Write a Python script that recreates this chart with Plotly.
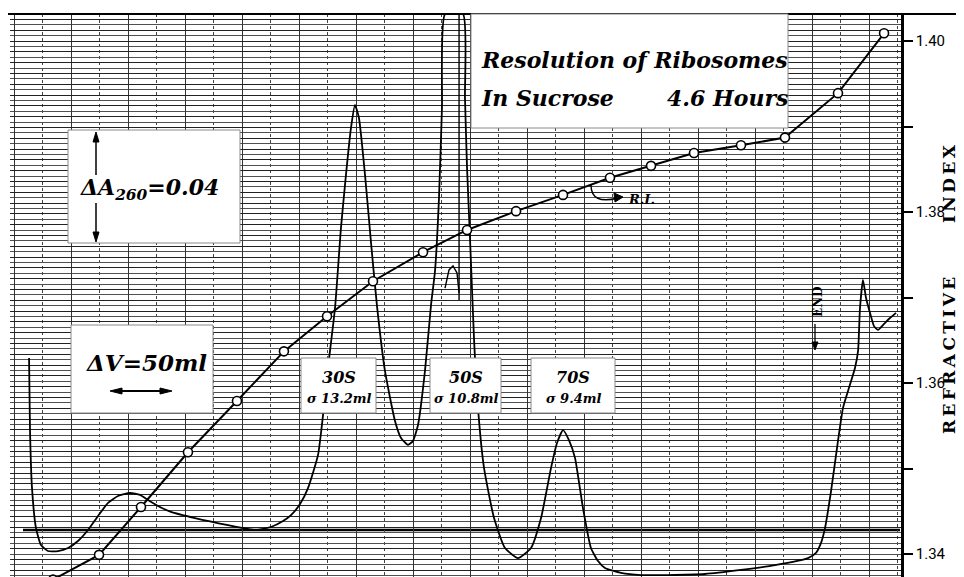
import plotly.graph_objects as go

# ---------------- data ----------------
# Absorbance (A260) trace: elution volume (ml) vs absorbance
ABS_ML = [13.2, 14.0, 15.8, 19.3, 23.7, 29.8, 38.6, 47.4, 56.1, 64.9, 73.7, 82.5, 91.2, 101.8,
          110.5, 117.5, 126.3, 137.7, 158.8, 187.7, 211.4, 225.4, 236.0, 243.0, 250.9, 257.9,
          266.7, 271.1, 275.4, 281.6, 286.8, 291.2, 295.6, 299.1, 302.6, 307.9, 313.2, 318.4,
          325.4, 334.2, 339.5, 345.6, 350.0, 354.4, 360.5, 365.8, 369.3, 372.8, 375.4, 378.1,
          393.9, 395.6, 397.4, 400.0, 403.5, 407.0, 412.3, 421.1, 430.7, 442.1, 453.5, 462.3,
          471.1, 476.3, 481.6, 486.8, 492.1, 499.1, 506.1, 512.3, 518.4, 532.5, 550.0, 573.7,
          606.1, 637.7, 667.5, 696.5, 703.5, 707.9, 711.4, 716.7, 722.8, 727.2, 731.6, 737.7,
          740.4, 742.1, 744.7, 747.4, 750.9, 754.4, 757.9, 763.2, 768.4, 773.7]
ABS_A260 = [0.0826, 0.0567, 0.0344, 0.0196, 0.0133, 0.0111, 0.0111, 0.0122, 0.0148, 0.0189,
            0.0241, 0.0289, 0.0315, 0.0326, 0.0319, 0.0300, 0.0278, 0.0256, 0.0233, 0.0207,
            0.0189, 0.0200, 0.0222, 0.0244, 0.0285, 0.0344, 0.0467, 0.0615, 0.0789, 0.1011,
            0.1307, 0.1504, 0.1678, 0.1763, 0.1715, 0.1504, 0.1252, 0.1019, 0.0778, 0.0593,
            0.0530, 0.0504, 0.0519, 0.0578, 0.0778, 0.1022, 0.1148, 0.1419, 0.1752, 0.2100,
            0.2100, 0.1789, 0.1530, 0.1270, 0.0900, 0.0641, 0.0419, 0.0233, 0.0122, 0.0085,
            0.0122, 0.0233, 0.0419, 0.0511, 0.0559, 0.0522, 0.0456, 0.0270, 0.0122, 0.0074,
            0.0048, 0.0030, 0.0022, 0.0022, 0.0026, 0.0041, 0.0059, 0.0085, 0.0104, 0.0141,
            0.0196, 0.0333, 0.0519, 0.0641, 0.0704, 0.0789, 0.0852, 0.1011, 0.1115, 0.1048,
            0.0993, 0.0944, 0.0930, 0.0952, 0.0974, 0.0993]

# extra pen strokes at the off-scale 50S peak
PEN_ML = [390.4, 390.4, None, 378.1, 381.6, 385.1, 388.6, 390.4]
PEN_A260 = [0.2100, 0.1041, None, 0.1085, 0.1152, 0.1167, 0.1141, 0.1067]

# Refractive index of collected fractions
RI_ML = [34.2, 74.6, 111.4, 152.6, 195.6, 236.8, 274.6, 314.9, 358.8, 397.4, 440.4,
         481.6, 522.8, 558.8, 596.5, 637.7, 676.3, 722.8, 763.2]
RI_VALUES = [1.3370, 1.3399, 1.3455, 1.3519, 1.3579, 1.3637, 1.3678, 1.3719, 1.3753,
             1.3779, 1.3801, 1.3820, 1.3840, 1.3854, 1.3869, 1.3878, 1.3887, 1.3939, 1.4009]

RI_TICK_START = 1.34      # labelled ticks every 0.02 from here
RI_TICK_STEP = 0.02
RI_MINOR_STEP = 0.01      # unlabelled ticks in between

BASELINE_A260 = 0.0189

PEAK_LABELS = ["30S", "50S", "70S"]
PEAK_SIGMAS = ["σ 13.2ml", "σ 10.8ml", "σ 9.4ml"]

# ---------------- layout geometry ----------------
W, H = 964, 577
ML, MR, MT, MB = 2, 71, 6, 4
PW, PH = W - ML - MR, H - MT - MB


def px(xp):
    return (xp - ML) / PW


def py(yp):
    return (H - MB - yp) / PH


SERIF = "DejaVu Serif"
ital = dict(family=SERIF, color="black", style="italic", weight="bold")

fig = go.Figure()

fig.add_trace(go.Scatter(
    x=ABS_ML, y=ABS_A260, mode="lines", yaxis="y",
    line=dict(color="black", width=1.8, shape="spline", smoothing=0.5),
    hoverinfo="skip"))
fig.add_trace(go.Scatter(
    x=PEN_ML, y=PEN_A260, mode="lines", yaxis="y",
    line=dict(color="black", width=1.4), connectgaps=False, hoverinfo="skip"))
fig.add_trace(go.Scatter(
    x=RI_ML, y=RI_VALUES, mode="lines+markers", yaxis="y2", cliponaxis=False,
    line=dict(color="black", width=2),
    marker=dict(symbol="circle", size=9, color="white", line=dict(color="black", width=1.6)),
    hoverinfo="skip"))

shapes = []
# heavy base line of the recorder chart
shapes.append(dict(type="line", xref="paper", yref="y", x0=px(15), x1=px(892),
                   y0=BASELINE_A260, y1=BASELINE_A260, line=dict(color="black", width=2.4),
                   layer="between"))
# top and bottom border lines
for yy in (6, 573):
    shapes.append(dict(type="line", xref="paper", yref="paper", x0=px(0), x1=px(960),
                       y0=py(yy), y1=py(yy), line=dict(color="black", width=2), layer="above"))

# white label boxes
boxes = [(463, 6, 780, 120), (60, 122, 232, 235), (63, 317, 205, 405),
         (293, 350, 368, 405), (422, 350, 493, 405), (523, 350, 607, 405)]
for (x0, y0, x1, y1) in boxes:
    shapes.append(dict(type="rect", xref="paper", yref="paper",
                       x0=px(x0), x1=px(x1), y0=py(y1), y1=py(y0),
                       fillcolor="white", line=dict(color="#8a8a8a", width=1), layer="above"))


def seg(x0, y0, x1, y1, w=1.5):
    return dict(type="line", xref="paper", yref="paper", layer="above",
                x0=px(x0), y0=py(y0), x1=px(x1), y1=py(y1), line=dict(color="black", width=w))


def tri(pts):
    p = " L ".join(f"{px(a)},{py(b)}" for a, b in pts)
    return dict(type="path", xref="paper", yref="paper", layer="above", path=f"M {p} Z",
                fillcolor="black", line=dict(color="black", width=1))


# ΔA260 scale arrows
shapes += [seg(88, 130, 88, 167), tri([(88, 124), (85, 134), (91, 134)]),
           seg(88, 195, 88, 228), tri([(88, 234), (85, 224), (91, 224)])]
# ΔV scale double arrow
shapes += [seg(110, 383, 156, 383, 2.2),
           tri([(102, 383), (114, 380), (114, 386)]),
           tri([(164, 383), (152, 380), (152, 386)])]
# END marker arrow
shapes += [seg(807, 316, 807, 336, 1.3), tri([(807, 342), (804, 334), (810, 334)])]
# curved R.I. pointer
shapes.append(dict(type="path", xref="paper", yref="paper", layer="above",
                   path=f"M {px(583)},{py(177)} Q {px(583)},{py(197)} {px(610)},{py(190)}",
                   line=dict(color="black", width=1.4)))
shapes.append(tri([(615, 189), (606, 185), (607, 194)]))

ann = []
# title
ann.append(dict(text="Resolution of Ribosomes", x=px(471), y=py(52), xanchor="left",
                yanchor="middle", font=dict(size=22, **ital)))
ann.append(dict(text="In Sucrose", x=px(471), y=py(90), xanchor="left",
                yanchor="middle", font=dict(size=22, **ital)))
ann.append(dict(text="4.6 Hours", x=px(657), y=py(90), xanchor="left",
                yanchor="middle", font=dict(size=22, **ital)))
# scale boxes
ann.append(dict(text="ΔA<sub>260</sub>=0.04", x=px(70), y=py(181), xanchor="left",
                yanchor="middle", font=dict(size=22, **ital)))
ann.append(dict(text="ΔV=50ml", x=px(76), y=py(354), xanchor="left",
                yanchor="middle", font=dict(size=23, **ital)))
# peak labels
centers = [331, 458, 565]
for c, lab, sg in zip(centers, PEAK_LABELS, PEAK_SIGMAS):
    ann.append(dict(text=lab, x=px(c), y=py(369), xanchor="center", yanchor="middle",
                    font=dict(size=16, **ital)))
    ann.append(dict(text=sg, x=px(c), y=py(390), xanchor="center", yanchor="middle",
                    font=dict(size=13, **ital)))
ann.append(dict(text="R.I.", x=px(618), y=py(191), xanchor="left", yanchor="middle",
                font=dict(size=13, **ital)))
ann.append(dict(text="END", x=px(810), y=py(294), xanchor="center", yanchor="middle",
                textangle=-90, font=dict(size=12, family=SERIF, color="black", weight="bold")))
# axis title (two words, widely spaced)
ann.append(dict(text="\u2009".join("REFRACTIVE"), x=px(941), y=py(348),
                textangle=-90, xanchor="center", yanchor="middle", borderpad=0,
                font=dict(size=17, family=SERIF, color="black", weight="bold")))
ann.append(dict(text="\u2009".join("INDEX"), x=px(941), y=py(176),
                textangle=-90, xanchor="center", yanchor="middle", borderpad=0,
                font=dict(size=17, family=SERIF, color="black", weight="bold")))
for a in ann:
    a.setdefault("xref", "paper")
    a.setdefault("yref", "paper")
    a.setdefault("showarrow", False)

x_lo = (ML - 6) / 1.14
x_hi = (ML + PW - 6) / 1.14

fig.update_layout(
    width=W, height=H, autosize=False,
    margin=dict(l=ML, r=MR, t=MT, b=MB, pad=0),
    paper_bgcolor="white", plot_bgcolor="white", showlegend=False,
    shapes=shapes, annotations=ann,
    xaxis=dict(range=[x_lo, x_hi], showticklabels=False, ticks="", showline=False,
               zeroline=False, showgrid=True, tick0=0, dtick=50,
               gridcolor="#333333", gridwidth=1.2,
               minor=dict(dtick=25, tick0=0, showgrid=True, gridcolor="#444444",
                          gridwidth=1, griddash="dot")),
    yaxis=dict(range=[0, PH / 2700], showticklabels=False, ticks="", showline=False,
               zeroline=False, showgrid=True, tick0=0, dtick=0.004,
               gridcolor="#222222", gridwidth=1.4,
               minor=dict(dtick=0.002, tick0=0, showgrid=True, gridcolor="#505050",
                          gridwidth=1.1)),
    yaxis2=dict(overlaying="y", side="right", anchor="x",
                range=[1.34 - 27 / 8550, 1.40 + 27 / 8550],
                tickmode="linear", tick0=RI_TICK_START, dtick=RI_TICK_STEP, tickformat=".2f",
                ticks="outside", ticklen=9, tickwidth=2, tickcolor="black",
                minor=dict(tick0=RI_TICK_START, dtick=RI_MINOR_STEP, ticks="outside",
                           ticklen=9, tickwidth=2, tickcolor="black", showgrid=False),
                showline=True, linecolor="black", linewidth=2.5, mirror=False,
                showgrid=False, zeroline=False, automargin=False,
                tickfont=dict(family="Liberation Sans Narrow, Roboto, Liberation Sans",
                              size=15, color="black")),
)

fig.write_html("out.html")
